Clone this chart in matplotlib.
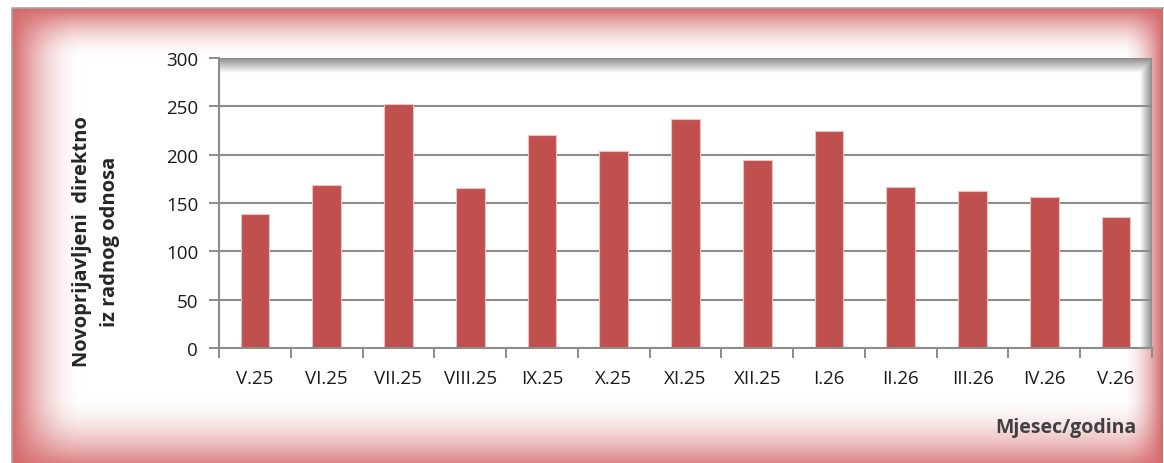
import numpy as np
import matplotlib
matplotlib.use("Agg")
import matplotlib.pyplot as plt

# Podaci
mjeseci = ["V.25", "VI.25", "VII.25", "VIII.25", "IX.25", "X.25", "XI.25",
           "XII.25", "I.26", "II.26", "III.26", "IV.26", "V.26"]
vrijednosti = [139, 169, 252, 166, 220, 204, 237, 194, 224, 167, 162, 156, 136]
y_ticks = [0, 50, 100, 150, 200, 250, 300]

W, H = 1164, 464
plt.rcParams['font.family'] = ['Open Sans', 'DejaVu Sans']

fig = plt.figure(figsize=(W / 100, H / 100), dpi=100)
fig.patch.set_facecolor("white")

# Pozadina u pikselima: okvir sa crvenim prelazom i bijela povrsina grafikona
left, right, top, bottom = 219, 1152, 59, 349
x0, x1, y0, y1 = 12, 1163, 9, 472
xx, yy = np.meshgrid(np.arange(W) + 0.5, np.arange(H) + 0.5)

def falloff(d, w):
    return np.clip(1 - d / w, 0, 1) ** 1.8

t = 1 - (1 - falloff(xx - x0, 70)) * (1 - falloff(x1 - xx, 40)) \
      * (1 - falloff(yy - y0, 50)) * (1 - falloff(y1 - yy, 75))
t = np.clip(t * 0.82, 0, 1)
base = np.array([0.80, 0.28, 0.29])
img = np.ones((H, W, 3)) * (1 - t[..., None]) + base * t[..., None]
inside = (xx >= x0) & (xx <= x1) & (yy >= y0) & (yy <= y1)
img[~inside] = 1.0

# povrsina grafikona sa sjenom gore i desno
plot = (xx >= left) & (xx <= right) & (yy >= top) & (yy <= bottom)
shade = np.ones_like(xx)
shade = np.minimum(shade, 0.55 + 0.45 * np.clip((yy - top) / 15, 0, 1))
shade = np.minimum(shade, 0.55 + 0.45 * np.clip((right - xx) / 12, 0, 1))
img[plot] = np.repeat(shade[plot][:, None], 3, axis=1)

bg = fig.add_axes([0, 0, 1, 1], zorder=-5)
bg.set_axis_off()
bg.imshow(img, extent=[0, W, H, 0], aspect="auto", interpolation="bilinear")
bg.plot([x0, x0, W], [H, y0, y0], color="#a6a6a6", lw=1.2)
bg.set_xlim(0, W)
bg.set_ylim(H, 0)

# Glavni grafikon
ax = fig.add_axes([left / W, 1 - bottom / H, (right - left) / W, (bottom - top) / H])
ax.set_facecolor("none")

x = np.arange(len(mjeseci))
ax.bar(x, vrijednosti, width=0.4, color="#C0504D", edgecolor="#e8c3c2",
       linewidth=0.8, zorder=2)

ax.set_xlim(-0.5, len(mjeseci) - 0.5)
ax.set_ylim(0, 300)
ax.set_yticks(y_ticks)
ax.set_xticks(np.arange(len(mjeseci) + 1) - 0.5)
ax.set_xticklabels([])
ax.set_xticks(x, minor=True)
ax.set_xticklabels(mjeseci, minor=True)
ax.tick_params(axis="x", which="major", length=7, width=1.4, color="#8c8c8c",
               direction="out")
ax.tick_params(axis="x", which="minor", length=0, pad=15, labelsize=13.5,
               labelcolor="#1a1a1a")
ax.tick_params(axis="y", length=7, width=1.4, color="#8c8c8c", pad=8,
               labelsize=13.5, labelcolor="#1a1a1a")

ax.yaxis.grid(True, color="#8c8c8c", linewidth=1.5, zorder=1)
ax.set_axisbelow(True)
for s in ["top", "right"]:
    ax.spines[s].set_visible(False)
for s in ["left", "bottom"]:
    ax.spines[s].set_color("#8c8c8c")
    ax.spines[s].set_linewidth(1.5)

fig.text(96 / W, 1 - 242 / H, "Novoprijavljeni  direktno\niz radnog odnosa",
         rotation=90, ha="center", va="center", multialignment="center",
         fontsize=14.5, fontweight="bold", color="#262626", linespacing=1.55)
fig.text(1066 / W, 1 - 428 / H, "Mjesec/godina", ha="center", va="center",
         fontsize=14, fontweight="bold", color="#404040")

fig.savefig("out.png", dpi=100)
